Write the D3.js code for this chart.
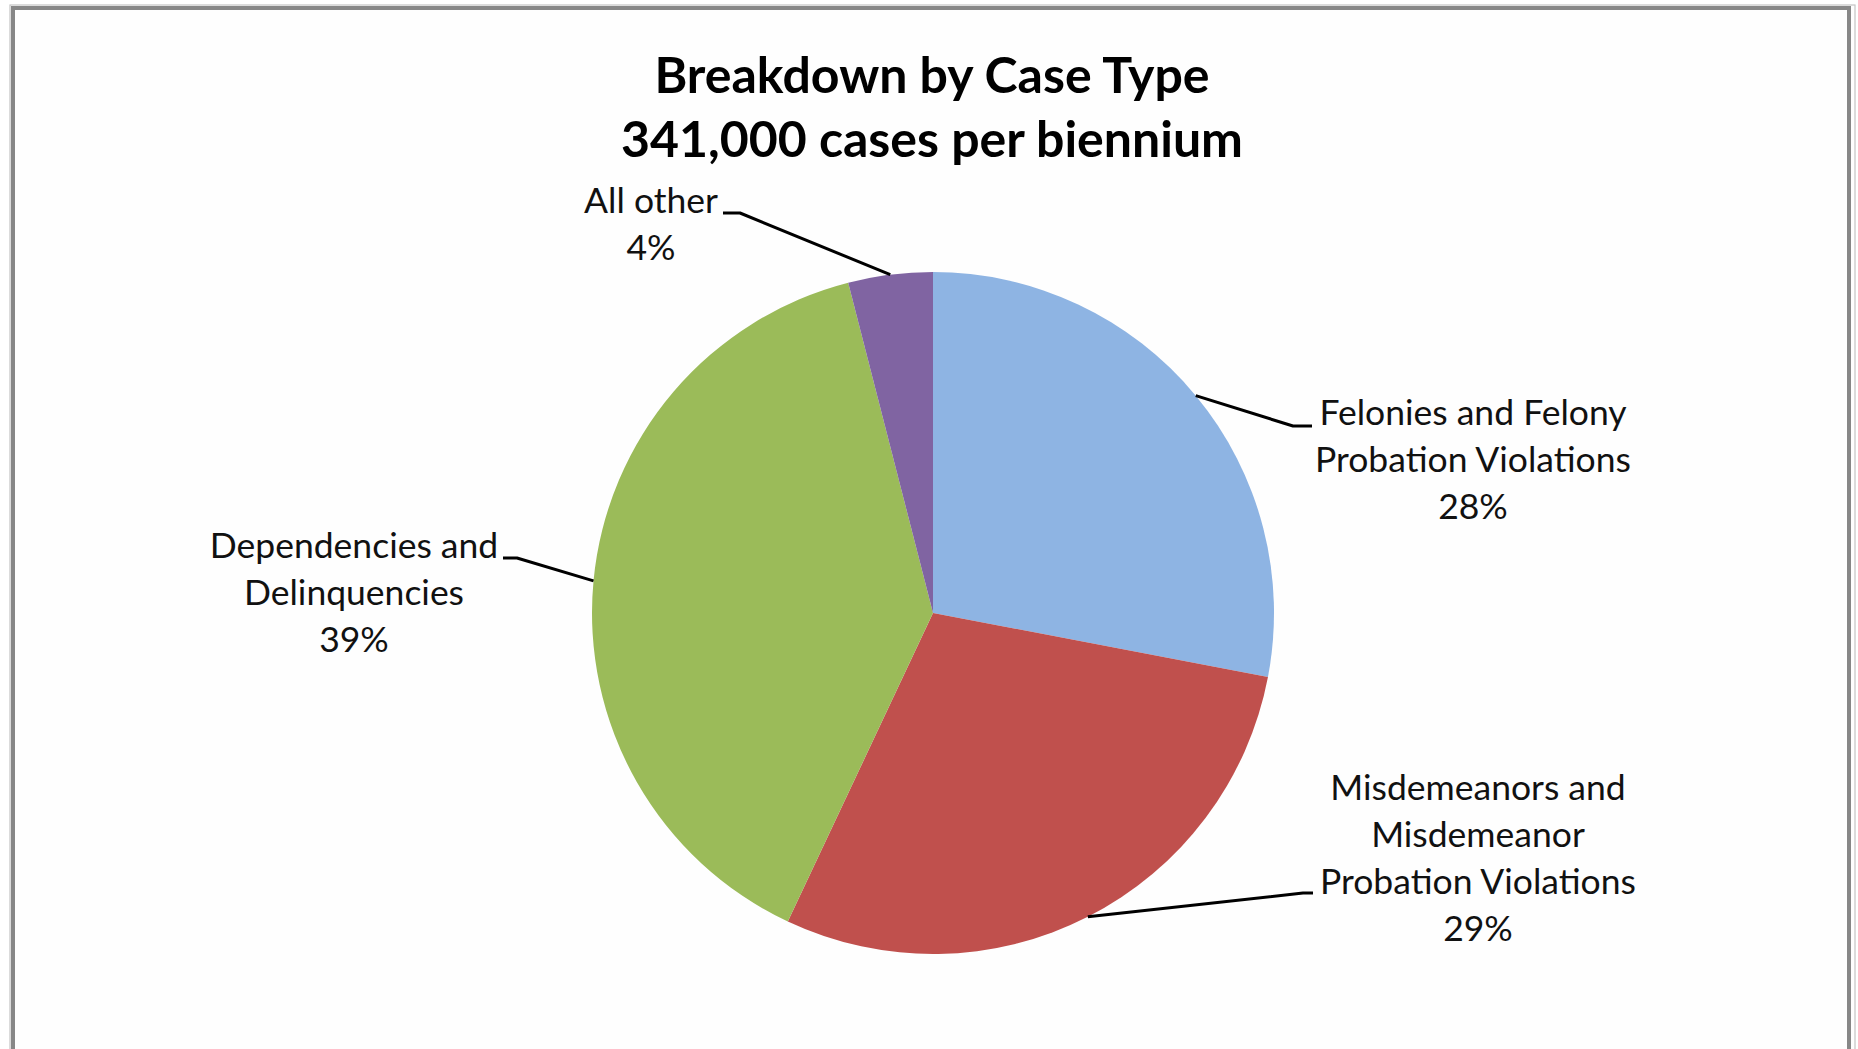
<!DOCTYPE html>
<html>
<head>
<meta charset="utf-8">
<script src="https://cdn.jsdelivr.net/npm/d3@7"></script>
<style>
  html, body { margin: 0; padding: 0; background: #fff; }
  svg { display: block; }
</style>
</head>
<body>
<svg id="chart" width="1858" height="1049"></svg>
<script>
// Case types, in clockwise order from 12 o'clock
const categories = [
  "Felonies and Felony Probation Violations",
  "Misdemeanors and Misdemeanor Probation Violations",
  "Dependencies and Delinquencies",
  "All other"
];
// Share of cases, percent
const shares = [28, 29, 39, 4];
// Label text lines (category wording as wrapped on the chart)
const labelLines = [
  ["Felonies and Felony", "Probation Violations"],
  ["Misdemeanors and", "Misdemeanor", "Probation Violations"],
  ["Dependencies and", "Delinquencies"],
  ["All other"]
];
const sliceColors = ["#8EB4E3", "#C0504D", "#9BBB59", "#8064A2"];
const titleLines = ["Breakdown by Case Type", "341,000 cases per biennium"];

// Label placement: centre x and first baseline of each block, and the
// point where the leader's horizontal run meets the text.
const labelLayout = [
  { cx: 1473, y: 425, ax: 1312, ay: 426, run: -19 },
  { cx: 1478, y: 800, ax: 1313, ay: 893, run: -10 },
  { cx: 354,  y: 558, ax: 503,  ay: 558, run: 14 },
  { cx: 651,  y: 213, ax: 723,  ay: 213, run: 17 }
];

const svg = d3.select("#chart");
const W = 1858, H = 1049;

// Chart area frame
svg.append("rect")
  .attr("x", 10).attr("y", 5).attr("width", W - 3 - 10).attr("height", H + 20)
  .attr("fill", "#fefefe").attr("stroke", "#c4c4c4").attr("stroke-width", 1.2);
svg.append("rect")
  .attr("x", 13).attr("y", 8).attr("width", W - 9 - 13).attr("height", H + 20)
  .attr("fill", "none").attr("stroke", "#878787").attr("stroke-width", 4);

// Title
const title = svg.append("text")
  .attr("x", 932).attr("y", 93)
  .attr("text-anchor", "middle")
  .attr("font-family", "Lato, 'Open Sans', sans-serif")
  .attr("font-weight", "bold")
  .attr("font-size", 50)
  .attr("fill", "#000");
title.selectAll("tspan").data(titleLines).join("tspan")
  .attr("x", 932)
  .attr("dy", (d, i) => i === 0 ? 0 : 64)
  .text(d => d);

// Pie
const cx = 933, cy = 613, R = 341;
const data = categories.map((c, i) => ({ category: c, value: shares[i], i }));
const pie = d3.pie().value(d => d.value).sort(null)
  .startAngle(0).endAngle(2 * Math.PI);
const arcs = pie(data);
const arc = d3.arc().innerRadius(0).outerRadius(R);

const g = svg.append("g").attr("transform", `translate(${cx},${cy})`);
g.selectAll("path").data(arcs).join("path")
  .attr("d", arc)
  .attr("fill", d => sliceColors[d.data.i]);

// Leader lines: from the slice rim at its mid-angle to the label
const leaders = svg.append("g")
  .attr("fill", "none").attr("stroke", "#000").attr("stroke-width", 3)
  .attr("stroke-linejoin", "round");
arcs.forEach(a => {
  const L = labelLayout[a.data.i];
  const mid = (a.startAngle + a.endAngle) / 2;
  const px = cx + R * Math.sin(mid), py = cy - R * Math.cos(mid);
  leaders.append("path")
    .attr("d", d3.line()([[px, py], [L.ax + L.run, L.ay], [L.ax, L.ay]]));
});

// Data labels: category lines followed by percent
const fmt = d3.format(".0f");
const labels = svg.append("g")
  .attr("font-family", "Lato, 'Open Sans', sans-serif")
  .attr("font-size", 35.5)
  .attr("fill", "#111")
  .attr("text-anchor", "middle");
arcs.forEach(a => {
  const L = labelLayout[a.data.i];
  const lines = labelLines[a.data.i].concat([fmt(a.data.value) + "%"]);
  const t = labels.append("text").attr("x", L.cx).attr("y", L.y);
  t.selectAll("tspan").data(lines).join("tspan")
    .attr("x", L.cx)
    .attr("dy", (d, i) => i === 0 ? 0 : 47)
    .text(d => d);
});
</script>
</body>
</html>
